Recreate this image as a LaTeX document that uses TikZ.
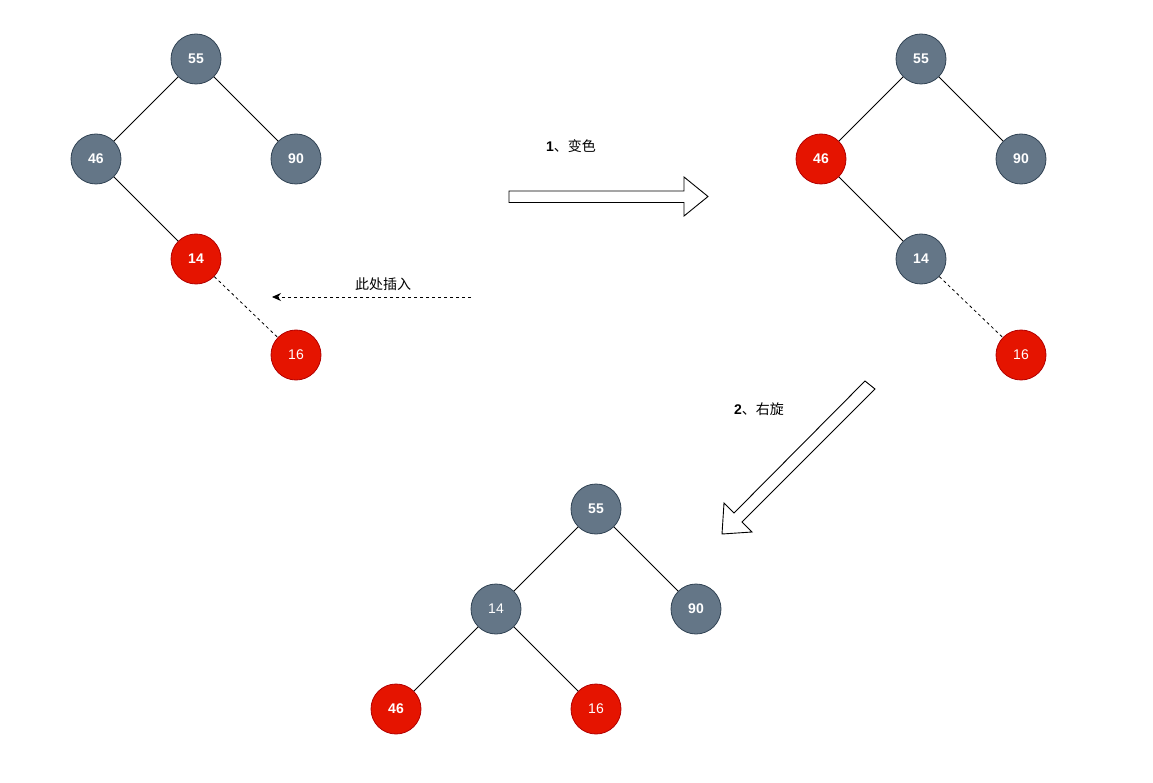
\documentclass[tikz,border=0pt]{standalone}
\usepackage{fontspec}
\setmainfont{Liberation Sans}
\newfontfamily\cjk{Noto Sans CJK SC}
\usetikzlibrary{arrows.meta}
\definecolor{gfill}{HTML}{647687}
\definecolor{gline}{HTML}{314354}
\definecolor{rfill}{HTML}{E51400}
\definecolor{rline}{HTML}{B20000}
\begin{document}
\begin{tikzpicture}[x=1pt,y=-1pt,
  gnode/.style={circle,minimum size=50pt,inner sep=0pt,fill=gfill,draw=gline,line width=0.8pt,text=white,font=\fontsize{14}{16}\selectfont},
  rnode/.style={circle,minimum size=50pt,inner sep=0pt,fill=rfill,draw=rline,line width=0.8pt,text=white,font=\fontsize{14}{16}\selectfont},
  edge/.style={draw=black,line width=0.8pt},
  dedge/.style={draw=black,line width=0.8pt,dash pattern=on 3pt off 3pt},
  lbl/.style={font=\fontsize{14}{16}\selectfont,text=black,inner sep=0pt},
  bigarrow/.style={draw=black,fill=white,line width=0.9pt,line join=miter}
]
\useasboundingbox (0,0) rectangle (1153,783);
% left tree
\node[gnode] (a55) at (196,59) {\bfseries 55};
\node[gnode] (a46) at (96,159) {\bfseries 46};
\node[gnode] (a90) at (296,159) {\bfseries 90};
\node[rnode] (a14) at (196,259) {\bfseries 14};
\node[rnode] (a16) at (296,355) {16};
\draw[edge] (a55) -- (a46);
\draw[edge] (a55) -- (a90);
\draw[edge] (a46) -- (a14);
\draw[dedge] (a14) -- (a16);
% right tree
\node[gnode] (b55) at (921,59) {\bfseries 55};
\node[rnode] (b46) at (821,159) {\bfseries 46};
\node[gnode] (b90) at (1021,159) {\bfseries 90};
\node[gnode] (b14) at (921,259) {\bfseries 14};
\node[rnode] (b16) at (1021,355) {16};
\draw[edge] (b55) -- (b46);
\draw[edge] (b55) -- (b90);
\draw[edge] (b46) -- (b14);
\draw[dedge] (b14) -- (b16);
% bottom tree
\node[gnode] (c55) at (596,509) {\bfseries 55};
\node[gnode] (c14) at (496,609) {14};
\node[gnode] (c90) at (696,609) {\bfseries 90};
\node[rnode] (c46) at (396,709) {\bfseries 46};
\node[rnode] (c16) at (596,709) {16};
\draw[edge] (c55) -- (c14);
\draw[edge] (c55) -- (c90);
\draw[edge] (c14) -- (c46);
\draw[edge] (c14) -- (c16);
% insertion arrow
\coordinate (insS) at (471,297);
\coordinate (insE) at (272,297);
\draw[dedge,-{Stealth[length=9pt,width=8pt,inset=3pt]}] (insS) -- (insE);
\node[lbl] (insL) at (383,284) {\cjk 此处插入};
% step 1 arrow
\draw[bigarrow] (509,191) -- (684,191) -- (684,177) -- (708,196.5) -- (684,216) -- (684,202.5) -- (509,202.5) -- cycle;
\node[lbl] (s1) at (571,146) {\textbf{1}\cjk 、变色};
% step 2 arrow
\draw[bigarrow] (865,381) -- (875,389) -- (742,522) -- (752,532) -- (722,534) -- (724,503) -- (734,513) -- cycle;
\node[lbl] (s2) at (759,409) {\textbf{2}\cjk 、右旋};
\end{tikzpicture}
\end{document}
